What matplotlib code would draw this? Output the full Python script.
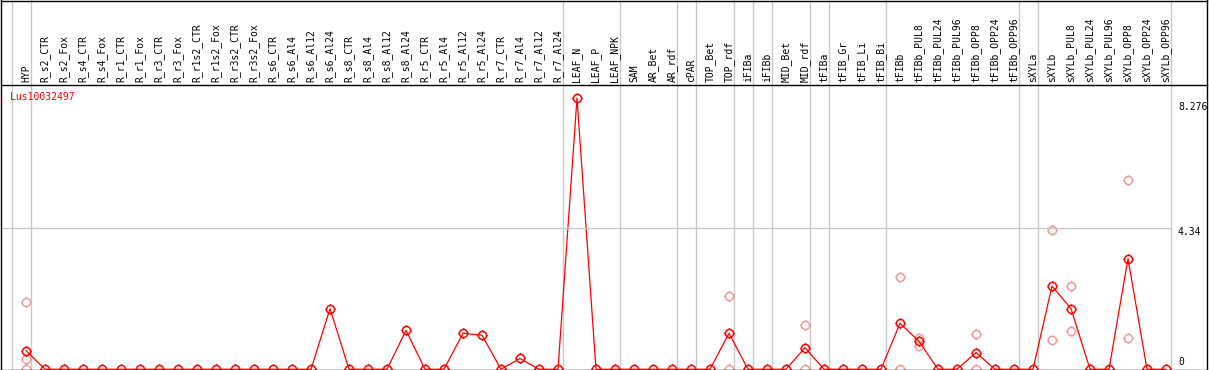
import matplotlib
matplotlib.use("Agg")
import matplotlib.pyplot as plt
from matplotlib.path import Path
from matplotlib.lines import Line2D

# sample columns, left to right
samples = ["HYP", "R_s2_CTR", "R_s2_Fox", "R_s4_CTR", "R_s4_Fox", "R_r1_CTR", "R_r1_Fox",
           "R_r3_CTR", "R_r3_Fox", "R_r1s2_CTR", "R_r1s2_Fox", "R_r3s2_CTR", "R_r3s2_Fox",
           "R_s6_CTR", "R_s6_Al4", "R_s6_Al12", "R_s6_Al24", "R_s8_CTR", "R_s8_Al4",
           "R_s8_Al12", "R_s8_Al24", "R_r5_CTR", "R_r5_Al4", "R_r5_Al12", "R_r5_Al24",
           "R_r7_CTR", "R_r7_Al4", "R_r7_Al12", "R_r7_Al24", "LEAF_N", "LEAF_P", "LEAF_NPK",
           "SAM", "AR_Bet", "AR_rdf", "cPAR", "TOP_Bet", "TOP_rdf", "iFIBa", "iFIBb",
           "MID_Bet", "MID_rdf", "tFIBa", "tFIB_Gr", "tFIB_Li", "tFIB_Bi", "tFIBb",
           "tFIBb_PUL8", "tFIBb_PUL24", "tFIBb_PUL96", "tFIBb_OPP8", "tFIBb_OPP24",
           "tFIBb_OPP96", "sXYLa", "sXYLb", "sXYLb_PUL8", "sXYLb_PUL24", "sXYLb_PUL96",
           "sXYLb_OPP8", "sXYLb_OPP24", "sXYLb_OPP96"]

# main expression values (red line)
values = [0.57, 0, 0, 0, 0, 0, 0, 0, 0, 0, 0, 0, 0, 0, 0, 0, 1.85, 0, 0, 0, 1.19,
          0, 0, 1.10, 1.04, 0, 0.33, 0, 0, 8.276, 0, 0, 0, 0, 0, 0, 0, 1.10, 0, 0,
          0, 0.66, 0, 0, 0, 0, 1.40, 0.855, 0, 0, 0.51, 0, 0, 0, 2.54, 1.85, 0, 0,
          3.38, 0, 0]

# individual replicates (light circles)
rep_samples = ["HYP", "HYP", "HYP", "TOP_rdf", "TOP_rdf", "MID_rdf", "MID_rdf",
               "tFIBb", "tFIBb", "tFIBb_PUL8", "tFIBb_PUL8", "tFIBb_OPP8", "tFIBb_OPP8",
               "sXYLb", "sXYLb", "sXYLb_PUL8", "sXYLb_PUL8", "sXYLb_OPP8", "sXYLb_OPP8"]
rep_values = [2.04, 0.30, 0.0, 2.23, 0.0, 1.34, 0.0, 2.83, 0.0, 0.97, 0.71, 1.07, 0.0,
              4.24, 0.88, 2.54, 1.16, 5.76, 0.97]

# last sample of each tissue group (gray separators)
group_ends = ["HYP", "R_r7_Al24", "LEAF_NPK", "AR_rdf", "cPAR", "TOP_rdf", "iFIBa",
              "iFIBb", "MID_rdf", "tFIBa", "tFIB_Bi", "tFIBb_OPP96", "sXYLa", "sXYLb_OPP96"]

gene = "Lus10032497"
ytick_labels = ["8.276", "4.34", "0"]

W, H = 1209, 370
fig = plt.figure(figsize=(W / 100, H / 100), dpi=100)
ax = fig.add_axes([0, 0, 1, 1])
ax.axis("off")

# 19 px per column, first column at x=26 px; y: 0 at 369.3 px, 32.78 px per unit
ax.set_xlim(-26 / 19, (W - 26) / 19)
ax.set_ylim(-0.7 / 32.78, 369.3 / 32.78)

def fx(px):
    return px / W

def fy(py):
    return 1 - py / H

# circle with little stubs
circ = Path.unit_circle()
stubs = Path([(0, 1), (0, 1.25), (0, -1), (0, -1.25), (1, 0), (1.25, 0), (-1, 0), (-1.25, 0)],
             [Path.MOVETO, Path.LINETO] * 4)
mk = Path.make_compound_path(circ, stubs)

xs = list(range(len(samples)))
pos = {s: i for i, s in enumerate(samples)}

# separators
gray = "#c8c8c8"
ax.axvline(-0.75, color=gray, lw=1.0, zorder=1)
for s in group_ends:
    ax.axvline(pos[s] + 0.25, color=gray, lw=1.0, zorder=1)

# gridline at middle tick
fig.add_artist(Line2D([fx(1), fx(1170)], [fy(228.3), fy(228.3)], color=gray, lw=1.0, zorder=1))

# replicates
rx = [pos[s] for s in rep_samples]
ax.plot(rx, rep_values, linestyle="none", marker=mk, markersize=7.3, mfc="none",
        mec="#f09a9a", mew=1.1, zorder=2, clip_on=False)

# main line
ax.plot(xs, values, color="red", lw=0.9, marker=mk, markersize=7.3, mfc="none",
        mec="red", mew=1.1, zorder=3, clip_on=False)

# frame and header line
for (x0, y0, x1, y1) in [(1, 0.5, 1207, 0.5), (1, 85, 1207, 85), (1, 369.5, 1207, 369.5),
                         (1, 0, 1, 370), (1207, 0, 1207, 370)]:
    fig.add_artist(Line2D([fx(x0), fx(x1)], [fy(y0), fy(y1)], color="black", lw=1.0, zorder=5))

# column labels
for i, s in enumerate(samples):
    ax.text(fx(26 + 19 * i), fy(82.5), s, transform=fig.transFigure, rotation=90,
            ha="center", va="bottom", fontsize=7, family="DejaVu Sans Mono", zorder=6)

# gene name
fig.text(fx(10), fy(97), gene, color="red", ha="left", va="center", fontsize=7,
         family="DejaVu Sans Mono")

# value labels on the right
label_py = [107, 232, 362]
for lab, py in zip(ytick_labels, label_py):
    fig.text(fx(1178), fy(py), lab, ha="left", va="center", fontsize=7,
             family="DejaVu Sans Mono")

fig.savefig("out.png", dpi=100)
